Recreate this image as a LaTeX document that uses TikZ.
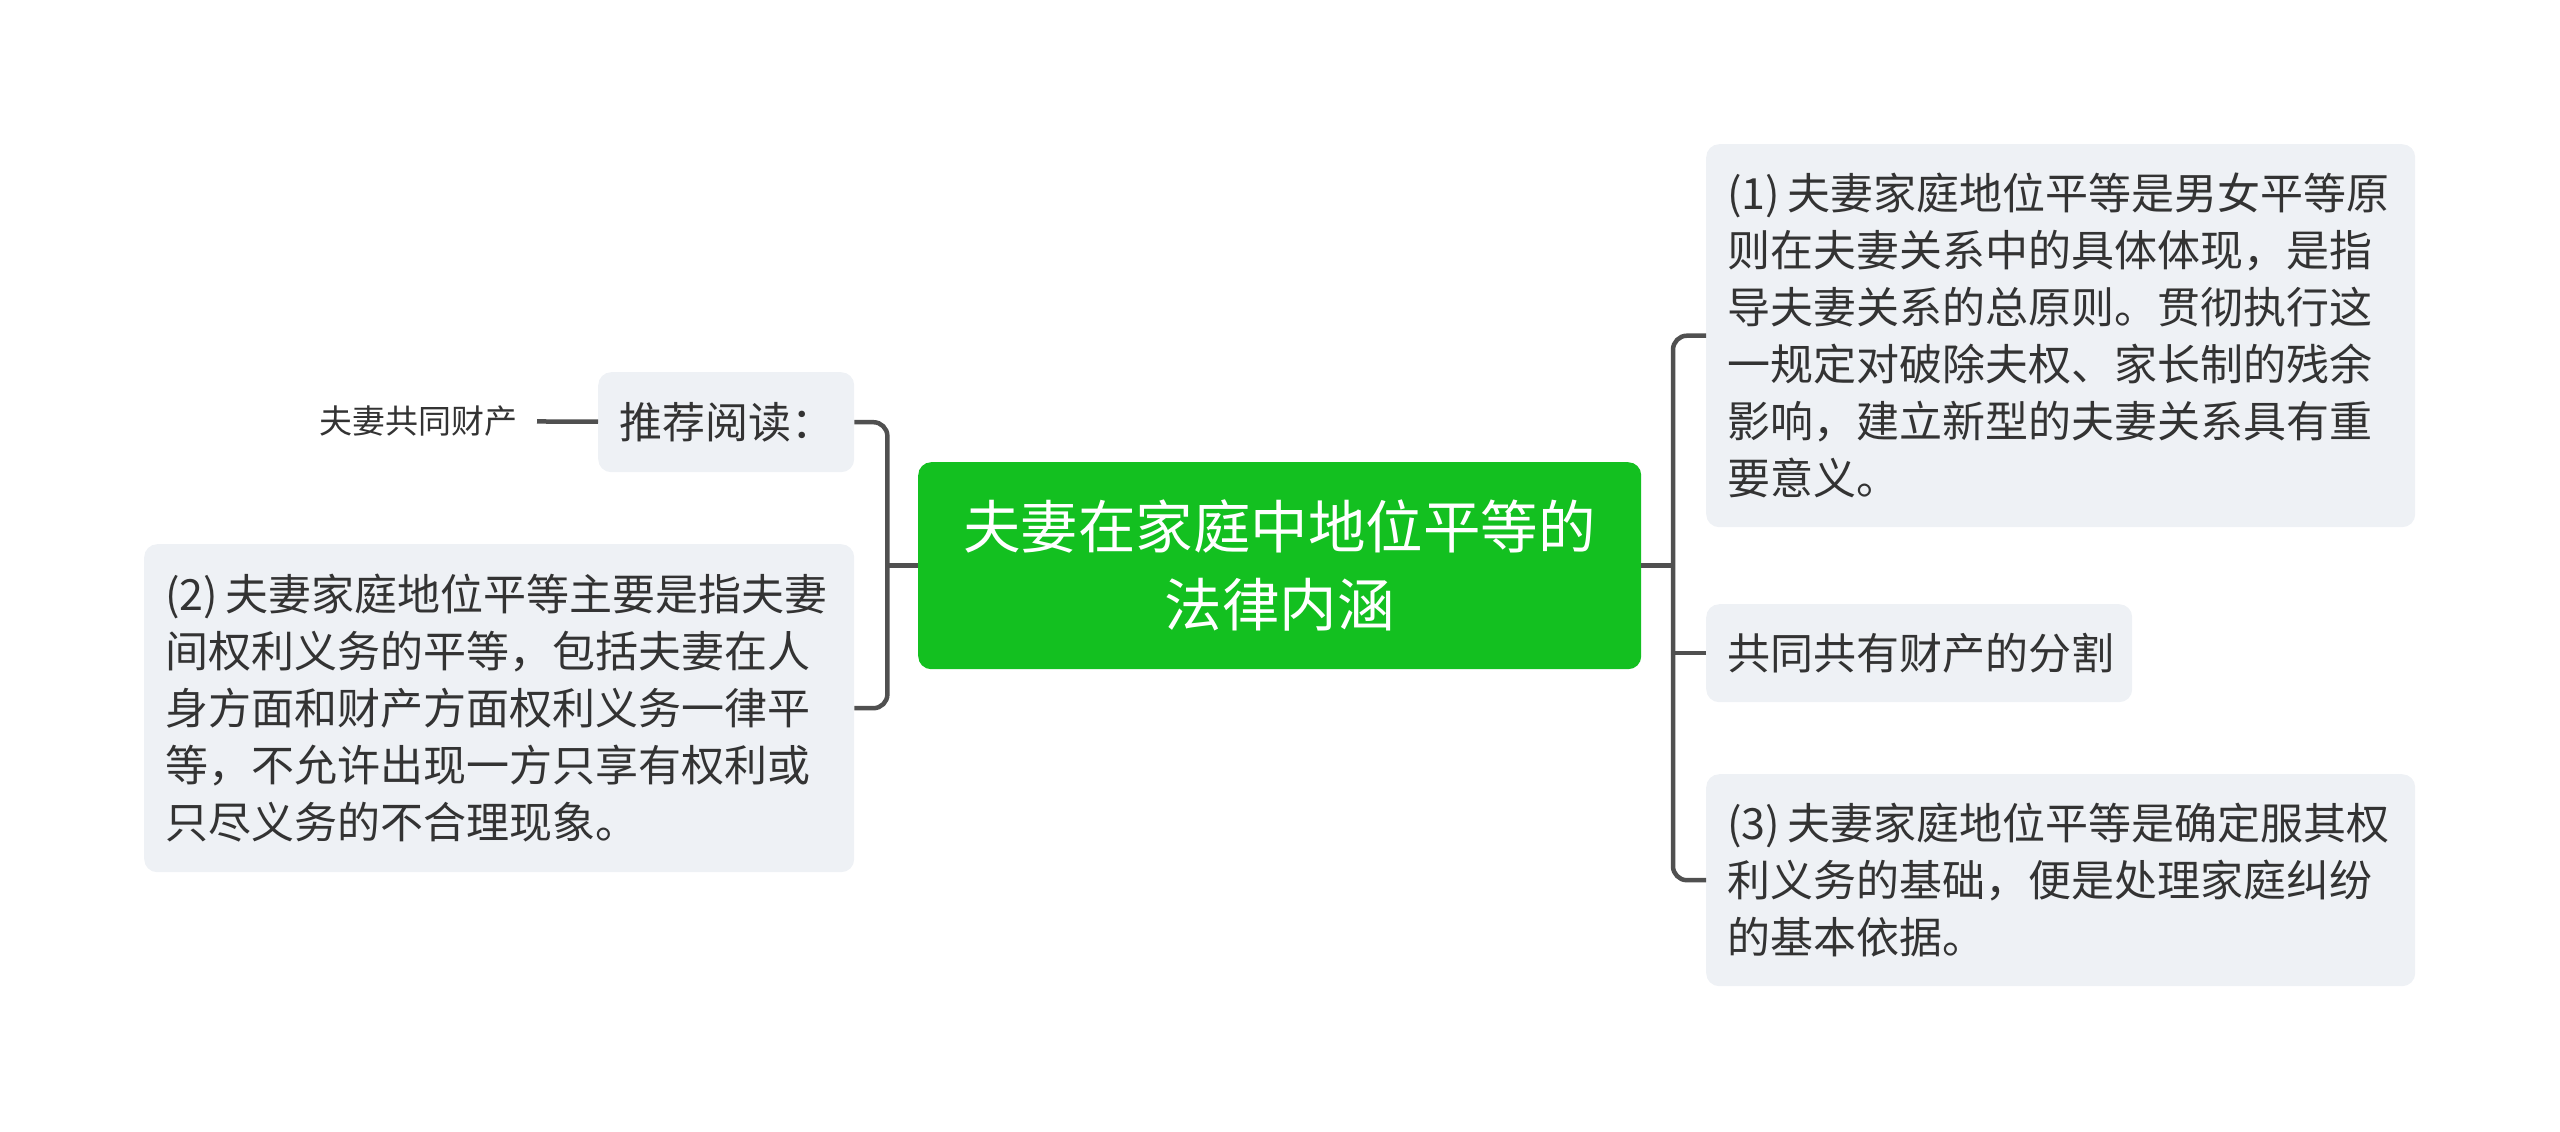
\documentclass[tikz,border=0pt]{standalone}
\usepackage{fontspec}
\setmainfont{Noto Sans CJK SC}
\usetikzlibrary{positioning}
\usepackage{xcolor}

\definecolor{hubgreen}{HTML}{13C020}
\definecolor{boxgray}{HTML}{EEF1F5}
\definecolor{inkgray}{HTML}{333333}
\definecolor{linkgray}{HTML}{505050}
\newcommand{\bodysize}{\fontsize{43pt}{57pt}\selectfont}
\newcommand{\hubsize}{\fontsize{57.5pt}{78pt}\selectfont}
\newcommand{\notesize}{\fontsize{33pt}{40pt}\selectfont}

\begin{document}
\begin{tikzpicture}[x=1pt, y=-1pt,
    topic/.style={fill=boxgray, text=inkgray, rounded corners=13pt, inner xsep=21pt, inner ysep=0pt, align=left, anchor=north west, font=\bodysize},
    link/.style={draw=linkgray, line width=4.5pt, rounded corners=14pt}]
    \useasboundingbox (0,0) rectangle (2560,1132);

    \node (hub) [fill=hubgreen, text=white, rounded corners=13pt, anchor=north west, minimum width=723pt, minimum height=207pt, align=center, font=\hubsize] at (918,462) {夫妻在家庭中地位平等的\\法律内涵};

    \node (r1) [topic, text width=667pt, minimum height=383pt] at (1706,144) {(1)\,夫妻家庭地位平等是男女平等原\\则在夫妻关系中的具体体现，是指\\导夫妻关系的总原则。贯彻执行这\\一规定对破除夫权、家长制的残余\\影响，建立新型的夫妻关系具有重\\要意义。};
    \node (r2) [topic, text width=384pt, minimum height=98pt] at (1706,604) {共同共有财产的分割};
    \node (r3) [topic, text width=667pt, minimum height=212pt] at (1706,774) {(3)\,夫妻家庭地位平等是确定服其权\\利义务的基础，便是处理家庭纠纷\\的基本依据。};

    \node (read) [topic, text width=214pt, minimum height=100pt] at (598,372) {推荐阅读：};
    \node (l2) [topic, text width=668pt, minimum height=328pt] at (144,544) {(2)\,夫妻家庭地位平等主要是指夫妻\\间权利义务的平等，包括夫妻在人\\身方面和财产方面权利义务一律平\\等，不允许出现一方只享有权利或\\只尽义务的不合理现象。};
    \node (prop) [anchor=east, font=\notesize, text=inkgray, inner xsep=19pt, inner ysep=0pt] at (537,421) {夫妻共同财产};

    \draw [link] (hub.east) -- ++(32,0);
    \draw [link] (r1.west) -- ++(-33,0) |- (r3.west);
    \draw [link] (r2.west) -- ++(-33,0);
    \draw [link] (hub.west) -- ++(-31,0);
    \draw [link] (read.east) -- ++(33,0) |- (l2.east);
    \draw [link] (prop) -- (read);
\end{tikzpicture}
\end{document}
